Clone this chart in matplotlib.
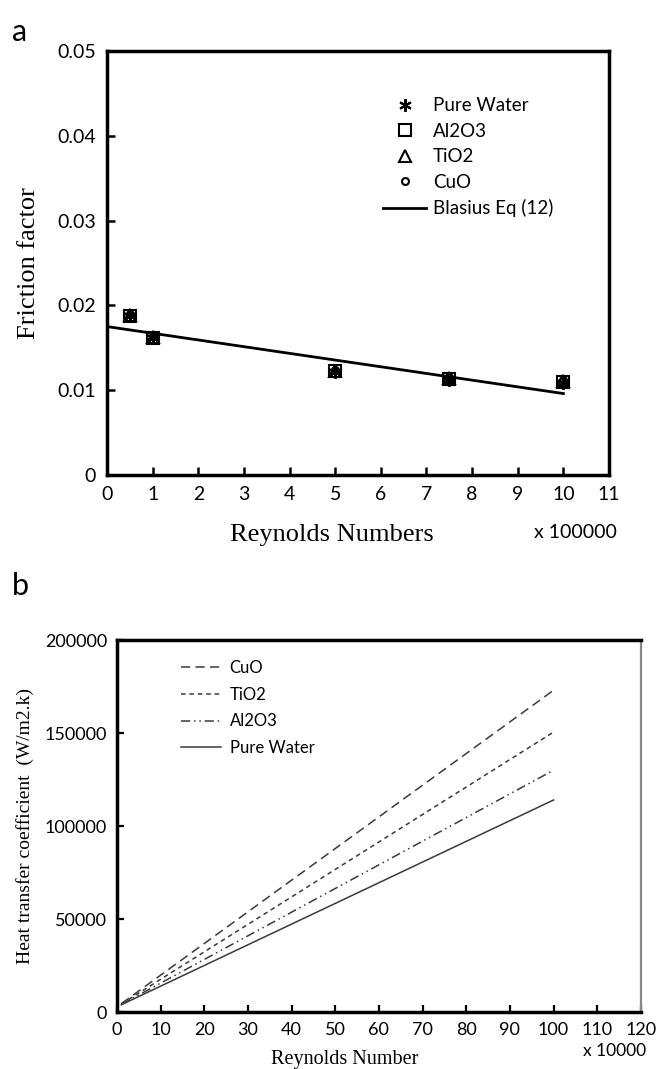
import matplotlib
matplotlib.use("Agg")
import matplotlib.pyplot as plt

# ---------------- data ----------------
re_a = [0.5, 1, 5, 7.5, 10]            # x 100000
f_water = [0.0187, 0.0161, 0.0122, 0.0112, 0.0109]
f_al2o3 = [0.0188, 0.0162, 0.0123, 0.0113, 0.0110]
f_tio2 = [0.0189, 0.0163, 0.0123, 0.0114, 0.0111]
f_cuo = [0.0190, 0.0164, 0.0124, 0.0115, 0.0112]
blasius_x = [0, 10]
blasius_y = [0.0175, 0.0096]

re_b = [1, 100]                         # x 10000
h_cuo = [4500, 173000]
h_tio2 = [4300, 150500]
h_al2o3 = [4100, 130000]
h_water = [3900, 114000]

xticks_a = list(range(0, 12))
yticks_a = [0, 0.01, 0.02, 0.03, 0.04, 0.05]
yticklabels_a = ["0", "0.01", "0.02", "0.03", "0.04", "0.05"]
xticks_b = list(range(0, 130, 10))
yticks_b = [0, 50000, 100000, 150000, 200000]

sans = "Lato"
serif = "Liberation Serif"

fig = plt.figure(figsize=(6.59, 10.69), dpi=100)

# ---------------- panel a ----------------
axa = fig.add_axes([0.1624, 0.5557, 0.7617, 0.3966])
axa.plot(blasius_x, blasius_y, color="black", lw=2.0, label="Blasius Eq (12)", zorder=2)
mk = dict(ls="none", color="black", mfc="none", mec="black", mew=1.5, zorder=3)
axa.plot(re_a, f_water, marker=(6, 2, 0), ms=9, label="Pure Water", **mk)
axa.plot(re_a, f_al2o3, marker="s", ms=8, label="Al2O3", **mk)
axa.plot(re_a, f_tio2, marker="^", ms=8, label="TiO2", **mk)
axa.plot(re_a, f_cuo, marker="o", ms=5, label="CuO", **mk)

axa.set_xlim(0, 11)
axa.set_ylim(0, 0.05)
axa.set_xticks(xticks_a)
axa.set_yticks(yticks_a)
axa.set_yticklabels(yticklabels_a)
for s in axa.spines.values():
    s.set_linewidth(2.5)
axa.tick_params(direction="in", length=6, width=1.8, labelsize=14, pad=8)
for lab in axa.get_xticklabels() + axa.get_yticklabels():
    lab.set_fontfamily(sans)
axa.set_xlabel("Reynolds Numbers", fontfamily=serif, fontsize=19)
axa.xaxis.set_label_coords(0.448, -0.115)
axa.set_ylabel("Friction factor", fontfamily=serif, fontsize=19, labelpad=12)
fig.text(0.873, 0.5015, "x 100000", fontfamily=sans, fontsize=14, ha="center", va="center")

h_, l_ = axa.get_legend_handles_labels()
order = [1, 2, 3, 4, 0]
axa.legend([h_[i] for i in order], [l_[i] for i in order], loc="upper left",
           bbox_to_anchor=(0.535, 0.908), frameon=False, handlelength=2.3,
           handletextpad=0.35, labelspacing=0.45, borderaxespad=0,
           prop={"family": sans, "size": 13.5})

fig.text(0.018, 0.970, "a", fontfamily=sans, fontsize=22, ha="left", va="center")

# ---------------- panel b ----------------
axb = fig.add_axes([0.1775, 0.0533, 0.795, 0.348])
col = "#3a3a3a"
axb.plot(re_b, h_cuo, color=col, lw=1.1, ls=(0, (6, 3.5)), label="CuO")
axb.plot(re_b, h_tio2, color=col, lw=1.1, ls=(0, (3, 2.5)), label="TiO2")
axb.plot(re_b, h_al2o3, color=col, lw=1.1, ls=(0, (6, 2.5, 1, 2.5, 1, 2.5)), label="Al2O3")
axb.plot(re_b, h_water, color=col, lw=1.1, ls="-", label="Pure Water")

axb.set_xlim(0, 120)
axb.set_ylim(0, 200000)
axb.set_xticks(xticks_b)
axb.set_yticks(yticks_b)
for name, s in axb.spines.items():
    s.set_linewidth(2.5)
axb.spines["right"].set_linewidth(1.6)
axb.spines["right"].set_color("#888888")
axb.tick_params(direction="in", length=5, width=1.6, labelsize=13, pad=7)
for lab in axb.get_xticklabels() + axb.get_yticklabels():
    lab.set_fontfamily(sans)
axb.set_xlabel("Reynolds Number", fontfamily=serif, fontsize=14.5)
axb.xaxis.set_label_coords(0.435, -0.102)
axb.set_ylabel("Heat transfer coefficient  (W/m2.k)", fontfamily=serif, fontsize=14, labelpad=8)
fig.text(0.933, 0.0165, "x 10000", fontfamily=sans, fontsize=12.5, ha="center", va="center")

axb.legend(loc="upper left", bbox_to_anchor=(0.11, 0.965), frameon=False,
           handlelength=2.4, handletextpad=0.5, labelspacing=0.65, borderaxespad=0,
           prop={"family": sans, "size": 12})

fig.text(0.018, 0.452, "b", fontfamily=sans, fontsize=22, ha="left", va="center")

fig.savefig("out.png", dpi=100)
